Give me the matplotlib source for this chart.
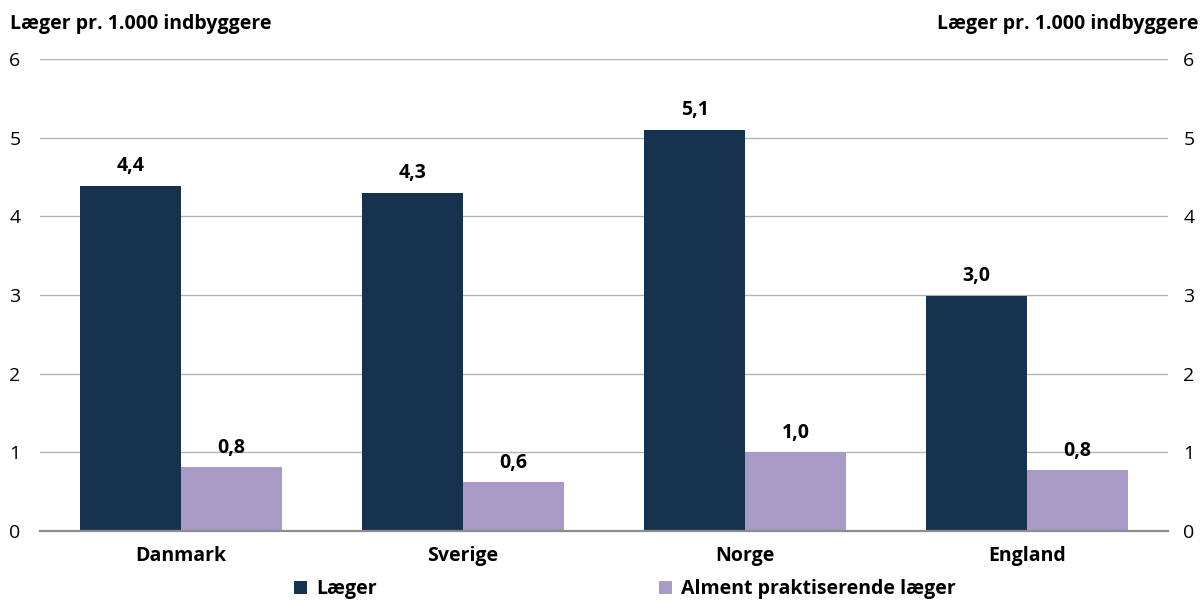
import matplotlib
matplotlib.use('Agg')
import matplotlib.pyplot as plt
import numpy as np

plt.rcParams['font.family'] = ['Open Sans', 'DejaVu Sans']

# data
lande = ['Danmark', 'Sverige', 'Norge', 'England']
laeger = [4.39, 4.30, 5.10, 2.99]
almen = [0.81, 0.62, 1.00, 0.77]
laeger_txt = ['4,4', '4,3', '5,1', '3,0']
almen_txt = ['0,8', '0,6', '1,0', '0,8']
serier = ['Læger', 'Alment praktiserende læger']
farver = ['#16324f', '#aa9bc6']
y_ticks = [0, 1, 2, 3, 4, 5, 6]

fs = 14

fig = plt.figure(figsize=(12.02, 6.01), dpi=100)
ax = fig.add_axes([0.0333, 0.1165, 0.9384, 0.7853])

x = np.arange(len(lande))
w = 0.358
b1 = ax.bar(x - w / 2, laeger, w, color=farver[0], label=serier[0], zorder=3)
b2 = ax.bar(x + w / 2, almen, w, color=farver[1], label=serier[1], zorder=3)

for rect, t in zip(b1, laeger_txt):
    ax.text(rect.get_x() + rect.get_width() / 2, rect.get_height() + 0.12, t,
            ha='center', va='bottom', fontsize=fs, fontweight='bold')
for rect, t in zip(b2, almen_txt):
    ax.text(rect.get_x() + rect.get_width() / 2, rect.get_height() + 0.12, t,
            ha='center', va='bottom', fontsize=fs, fontweight='bold')

ax.set_xlim(-0.5, len(lande) - 0.5)
ax.set_ylim(0, 6)
ax.set_yticks(y_ticks)
ax.set_yticklabels([str(v) for v in y_ticks], fontsize=fs)
ax.set_xticks(x)
ax.set_xticklabels(lande, fontsize=fs, fontweight='bold')
ax.tick_params(axis='x', length=0, pad=11)
ax.tick_params(axis='y', length=0, pad=14)

ax.yaxis.grid(True, color='#b4b4b4', linewidth=1, zorder=0)
for s in ['top', 'left', 'right']:
    ax.spines[s].set_visible(False)
ax.spines['bottom'].set_color('#8c8c8c')
ax.spines['bottom'].set_linewidth(1.6)
ax.spines['bottom'].set_zorder(4)

ax2 = ax.twinx()
ax2.set_ylim(0, 6)
ax2.set_yticks(y_ticks)
ax2.set_yticklabels([str(v) for v in y_ticks], fontsize=fs)
ax2.tick_params(axis='y', length=0, pad=11)
for s in ax2.spines.values():
    s.set_visible(False)

fig.text(0.008, 0.96, 'Læger pr. 1.000 indbyggere', fontsize=fs,
         fontweight='bold', ha='left', va='center')
fig.text(0.997, 0.96, 'Læger pr. 1.000 indbyggere', fontsize=fs,
         fontweight='bold', ha='right', va='center')

leg = fig.legend(handles=[b1, b2], labels=serier, loc='center',
                 bbox_to_anchor=(0.52, 0.02), ncol=2, frameon=False,
                 fontsize=fs, handlelength=0.65, handleheight=0.65,
                 columnspacing=14.5, handletextpad=0.5)
for t in leg.get_texts():
    t.set_fontweight('bold')

fig.savefig('out.png', dpi=100)
